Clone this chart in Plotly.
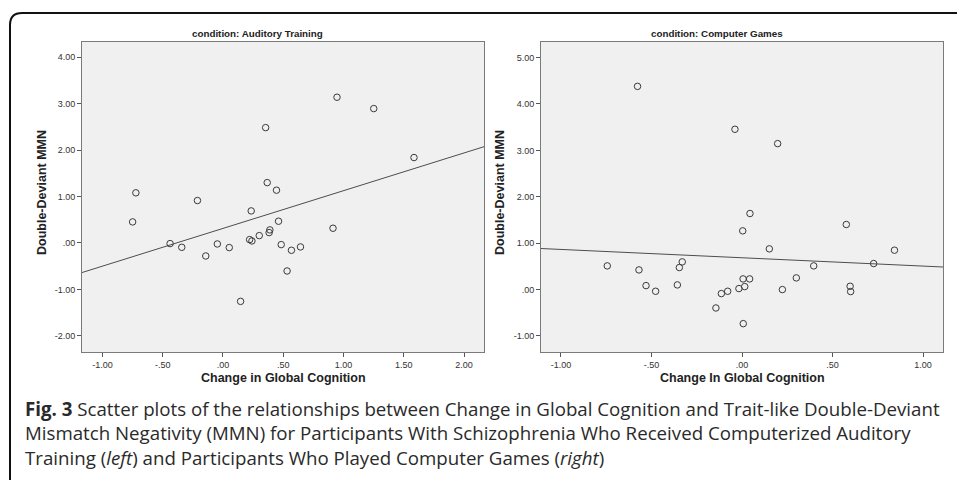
import numpy as np
import plotly.graph_objects as go

W, H = 957, 480

# ---- data: Auditory Training (left) ----
at_x = [-0.723, -0.750, -0.212, -0.439, -0.342, -0.143, -0.047, 0.052, 0.234, 0.221,
        0.240, 0.301, 0.389, 0.383, 0.367, 0.444, 0.461, 0.483, 0.568, 0.643,
        0.532, 0.146, 0.913, 0.354, 0.946, 1.251, 1.585]
at_y = [1.08, 0.453, 0.914, -0.014, -0.094, -0.281, -0.022, -0.10, 0.69, 0.072,
        0.043, 0.158, 0.281, 0.223, 1.30, 1.137, 0.468, -0.036, -0.158, -0.086,
        -0.604, -1.259, 0.317, 2.485, 3.14, 2.895, 1.84]

# ---- data: Computer Games (right) ----
cg_x = [-0.744, -0.569, -0.530, -0.477, -0.357, -0.346, -0.330, -0.144, -0.114, -0.079,
        -0.017, 0.006, 0.015, 0.042, 0.004, 0.044, 0.007, 0.151, 0.223, 0.300,
        0.396, 0.576, 0.597, 0.600, 0.727, 0.842, -0.577, -0.039, 0.197]
cg_y = [0.511, 0.424, 0.086, -0.036, 0.101, 0.475, 0.597, -0.396, -0.086, -0.036,
        0.022, 0.230, 0.065, 0.230, 1.266, 1.64, -0.734, 0.878, 0.0, 0.252,
        0.511, 1.403, 0.072, -0.043, 0.561, 0.849, 4.38, 3.455, 3.146]

# ticks
at_xticks = [-1.0, -0.5, 0.0, 0.5, 1.0, 1.5, 2.0]
at_xlabels = ["-1.00", "-.50", ".00", ".50", "1.00", "1.50", "2.00"]
at_yticks = [-2, -1, 0, 1, 2, 3, 4]
at_ylabels = ["-2.00", "-1.00", ".00", "1.00", "2.00", "3.00", "4.00"]
cg_xticks = [-1.0, -0.5, 0.0, 0.5, 1.0]
cg_xlabels = ["-1.00", "-.50", ".00", ".50", "1.00"]
cg_yticks = [-1, 0, 1, 2, 3, 4, 5]
cg_ylabels = ["-1.00", ".00", "1.00", "2.00", "3.00", "4.00", "5.00"]

at_xrange = [-1.17, 2.166]
at_yrange = [-2.35, 4.33]
cg_xrange = [-1.11, 1.11]
cg_yrange = [-1.345, 5.336]

titles = ["condition: Auditory Training", "condition: Computer Games"]
xtitles = ["Change in Global Cognition", "Change In Global Cognition"]
ytitle = "Double-Deviant MMN"

caption_lines = [
    "<b>Fig. 3</b> Scatter plots of the relationships between Change in Global Cognition and Trait-like Double-Deviant",
    "Mismatch Negativity (MMN) for Participants With Schizophrenia Who Received Computerized Auditory",
    "Training (<i>left</i>) and Participants Who Played Computer Games (<i>right</i>)",
]

# ---- layout in pixels ----
def px(x):
    return x / W

def py(y):
    return 1 - y / H

panels = [
    dict(x0=82, x1=484, y0=42, y1=352, full0=30),
    dict(x0=541, x1=943, y0=42, y1=352, full0=490),
]

fig = go.Figure()

line_col = "#4d4d4d"
pt_col = "#3a3a3a"

for i, (xs, ys, xr) in enumerate([(at_x, at_y, at_xrange), (cg_x, cg_y, cg_xrange)]):
    xa = "x" if i == 0 else "x2"
    ya = "y" if i == 0 else "y2"
    b, a = np.polyfit(np.array(xs), np.array(ys), 1)
    lx = np.array(xr)
    fig.add_trace(go.Scatter(x=lx, y=a + b * lx, mode="lines", xaxis=xa, yaxis=ya,
                             line=dict(color=line_col, width=1), hoverinfo="skip",
                             showlegend=False, cliponaxis=True))
    fig.add_trace(go.Scatter(x=xs, y=ys, mode="markers", xaxis=xa, yaxis=ya,
                             marker=dict(symbol="circle-open", size=6.5,
                                         color=pt_col, line=dict(width=1)),
                             showlegend=False))

tickfont = dict(family="Liberation Sans, Arial, sans-serif", size=9, color="#333333")
axis_common = dict(showgrid=False, zeroline=False, showline=True, mirror=True,
                   linecolor="#7a7a7a", linewidth=1, ticks="outside", ticklen=4,
                   tickcolor="#555555", tickwidth=1, tickfont=tickfont,
                   automargin=False, fixedrange=True)

p0, p1 = panels
fig.update_layout(
    width=W, height=H,
    margin=dict(l=0, r=0, t=0, b=0),
    paper_bgcolor="white",
    plot_bgcolor="#f0f0f0",
    showlegend=False,
    xaxis=dict(domain=[px(p0["x0"]), px(p0["x1"])], range=at_xrange,
               tickvals=at_xticks, ticktext=at_xlabels, anchor="y", **axis_common),
    yaxis=dict(domain=[py(p0["y1"]), py(p0["y0"])], range=at_yrange,
               tickvals=at_yticks, ticktext=at_ylabels, anchor="x", **axis_common),
    xaxis2=dict(domain=[px(p1["x0"]), px(p1["x1"])], range=cg_xrange,
                tickvals=cg_xticks, ticktext=cg_xlabels, anchor="y2", **axis_common),
    yaxis2=dict(domain=[py(p1["y1"]), py(p1["y0"])], range=cg_yrange,
                tickvals=cg_yticks, ticktext=cg_ylabels, anchor="x2", **axis_common),
)

ann = []
labfont = dict(family="Liberation Sans, Arial, sans-serif", size=12.5, color="#222222")
for i, p in enumerate(panels):
    ann.append(dict(x=px((p["full0"] + p["x1"]) / 2), y=py(34), xref="paper", yref="paper",
                    text="<b>%s</b>" % titles[i], showarrow=False,
                    font=dict(family="Liberation Sans, Arial, sans-serif", size=9.8, color="#222222"),
                    xanchor="center", yanchor="middle"))
    ann.append(dict(x=px((p["x0"] + p["x1"]) / 2), y=py(378), xref="paper", yref="paper",
                    text="<b>%s</b>" % xtitles[i], showarrow=False, font=labfont,
                    xanchor="center", yanchor="middle"))
    ann.append(dict(x=px(p["x0"] - 40 + (0 if i == 0 else -1)), y=py(193), xref="paper", yref="paper",
                    text="<b>%s</b>" % ytitle, showarrow=False, font=labfont, textangle=-90,
                    xanchor="center", yanchor="middle"))

capfont = dict(family="Open Sans, sans-serif", size=18.7, color="#2a2a2a")
for j, line in enumerate(caption_lines):
    ann.append(dict(x=px(23), y=py(408 + 24.5 * j), xref="paper", yref="paper",
                    text=line, showarrow=False, font=capfont,
                    xanchor="left", yanchor="middle", align="left"))

fig.update_layout(annotations=ann)

# outer rounded frame (clipped at right and bottom)
r = 12
xl, yt = 10, 13
path = (f"M {px(xl)},{py(H + 20)} L {px(xl)},{py(yt + r)} "
        f"Q {px(xl)},{py(yt)} {px(xl + r)},{py(yt)} L {px(W + 20)},{py(yt)}")
fig.add_shape(type="path", path=path, xref="paper", yref="paper",
              line=dict(color="#111111", width=2))

fig.write_html("out.html", config={"displayModeBar": False},
               post_script="document.body.style.margin='0';document.body.style.overflow='hidden';")
